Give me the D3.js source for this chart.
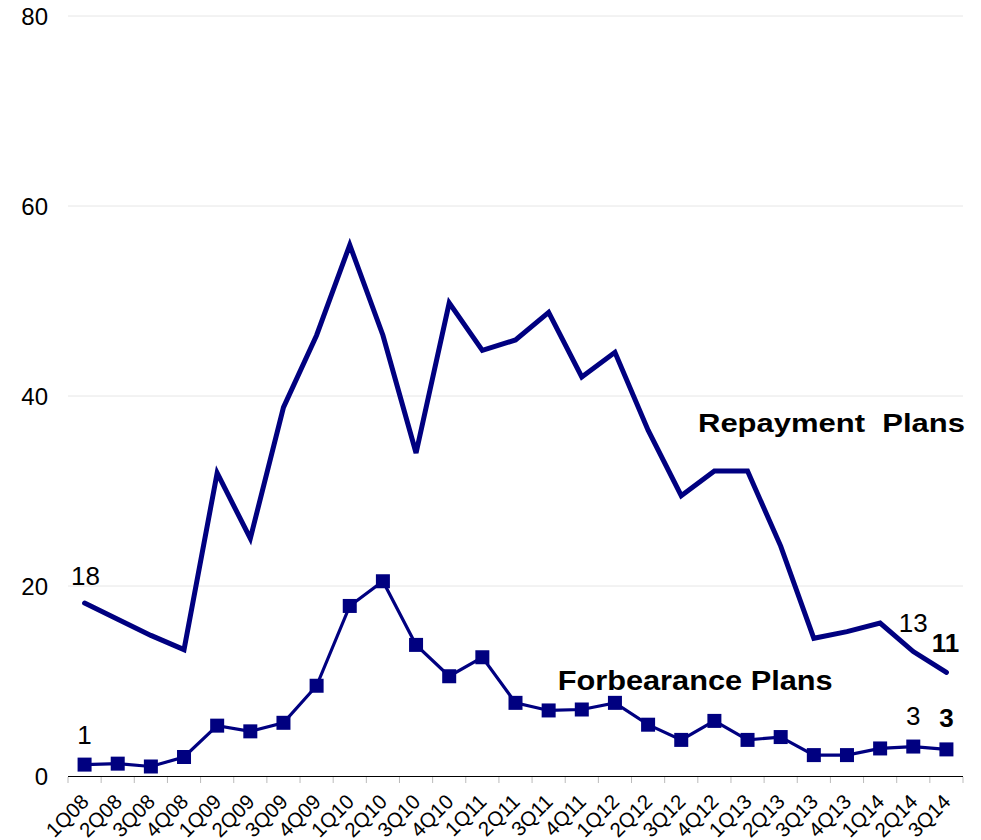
<!DOCTYPE html>
<html>
<head>
<meta charset="utf-8">
<script src="https://cdn.jsdelivr.net/npm/d3@7"></script>
<style>
  body { margin: 0; background: #fff; }
  svg { display: block; font-family: 'Liberation Sans', Arial, sans-serif; }
</style>
</head>
<body>
<div id="chart"></div>
<script>
const quarters = ['1Q08', '2Q08', '3Q08', '4Q08', '1Q09', '2Q09', '3Q09', '4Q09', '1Q10', '2Q10', '3Q10', '4Q10',
  '1Q11', '2Q11', '3Q11', '4Q11', '1Q12', '2Q12', '3Q12', '4Q12', '1Q13', '2Q13', '3Q13', '4Q13', '1Q14', '2Q14', '3Q14'];
const repayment = [18.2, 16.5, 14.8, 13.3, 31.9, 25.0, 38.8, 46.4, 55.9, 46.4, 34.0, 49.8,
  44.8, 45.9, 48.8, 42.0, 44.6, 36.4, 29.5, 32.1, 32.1, 24.2, 14.5, 15.2, 16.1, 13.1, 10.9];
const forbearance = [1.2, 1.3, 1.0, 2.0, 5.3, 4.7, 5.6, 9.5, 17.9, 20.5, 13.8, 10.5,
  12.5, 7.7, 6.9, 7.0, 7.7, 5.4, 3.8, 5.8, 3.8, 4.1, 2.2, 2.2, 2.9, 3.1, 2.8];
const yTicks = [0, 20, 40, 60, 80];

const width = 981;
const height = 840;
const margin = { top: 16, right: 18, bottom: 64, left: 68 };
const navy = '#000080';

const svg = d3.select('#chart').append('svg').attr('width', width).attr('height', height);

const x = d3.scaleBand().domain(quarters).range([margin.left, width - margin.right]);
const y = d3.scaleLinear().domain([0, 80]).range([height - margin.bottom, margin.top]);
const cx = (q) => x(q) + x.bandwidth() / 2;

// gridlines
svg.append('g')
  .selectAll('line')
  .data(yTicks.filter((d) => d > 0))
  .join('line')
  .attr('x1', x.range()[0])
  .attr('x2', x.range()[1])
  .attr('y1', (d) => y(d))
  .attr('y2', (d) => y(d))
  .attr('stroke', '#e6e6e6')
  .attr('stroke-width', 1);

// y labels
svg.append('g')
  .selectAll('text')
  .data(yTicks)
  .join('text')
  .attr('x', 48)
  .attr('y', (d) => y(d))
  .attr('dy', '0.36em')
  .attr('text-anchor', 'end')
  .attr('font-size', 24)
  .attr('fill', '#000')
  .text((d) => d);

// x axis
const axisY = y(0);
svg.append('line')
  .attr('x1', x.range()[0])
  .attr('x2', x.range()[1])
  .attr('y1', axisY + 0.5)
  .attr('y2', axisY + 0.5)
  .attr('stroke', '#000')
  .attr('stroke-width', 1.2);

svg.append('g')
  .selectAll('line')
  .data(quarters.concat(['end']))
  .join('line')
  .attr('x1', (d, i) => (i < quarters.length ? x(d) : x.range()[1]))
  .attr('x2', (d, i) => (i < quarters.length ? x(d) : x.range()[1]))
  .attr('y1', axisY + 1)
  .attr('y2', axisY + 7)
  .attr('stroke', '#bbb')
  .attr('stroke-width', 1);

svg.append('g')
  .selectAll('text')
  .data(quarters)
  .join('text')
  .attr('transform', (d) => `translate(${cx(d) + 5.5},${axisY + 27}) rotate(-45)`)
  .attr('text-anchor', 'end')
  .attr('font-size', 20.5)
  .attr('fill', '#000')
  .text((d) => d);

// repayment line
const line = d3.line().x((d, i) => cx(quarters[i])).y((d) => y(d));

svg.append('path')
  .datum(repayment)
  .attr('fill', 'none')
  .attr('stroke', navy)
  .attr('stroke-width', 5)
  .attr('stroke-linejoin', 'miter')
  .attr('stroke-linecap', 'round')
  .attr('d', line);

// forbearance line + markers
svg.append('path')
  .datum(forbearance)
  .attr('fill', 'none')
  .attr('stroke', navy)
  .attr('stroke-width', 3.2)
  .attr('d', line);

svg.append('g')
  .selectAll('rect')
  .data(forbearance)
  .join('rect')
  .attr('x', (d, i) => cx(quarters[i]) - 7)
  .attr('y', (d) => y(d) - 7)
  .attr('width', 14)
  .attr('height', 14)
  .attr('fill', navy);

// value labels
const fmt = d3.format('.0f');
const valueLabels = [
  { series: repayment, i: 0, bold: false, dx: 1, dy: -18 },
  { series: repayment, i: 25, bold: false, dx: 0, dy: -20 },
  { series: repayment, i: 26, bold: true, dx: -1, dy: -20 },
  { series: forbearance, i: 0, bold: false, dx: 0, dy: -21 },
  { series: forbearance, i: 25, bold: false, dx: 0, dy: -22 },
  { series: forbearance, i: 26, bold: true, dx: 0, dy: -22 }
];

svg.append('g')
  .selectAll('text')
  .data(valueLabels)
  .join('text')
  .attr('x', (d) => cx(quarters[d.i]) + d.dx)
  .attr('y', (d) => y(d.series[d.i]) + d.dy)
  .attr('text-anchor', 'middle')
  .attr('font-size', 26)
  .attr('font-weight', (d) => (d.bold ? 'bold' : 'normal'))
  .attr('fill', '#000')
  .text((d) => fmt(d.series[d.i]));

// series names
svg.append('text')
  .attr('x', x.range()[1] + 2)
  .attr('y', y(36.2))
  .attr('text-anchor', 'end')
  .attr('font-size', 26)
  .attr('font-weight', 'bold')
  .attr('textLength', 267)
  .attr('lengthAdjust', 'spacingAndGlyphs')
  .style('white-space', 'pre')
  .text('Repayment  Plans');

svg.append('text')
  .attr('x', cx('3Q11') + 9)
  .attr('y', y(9.05))
  .attr('font-size', 27)
  .attr('font-weight', 'bold')
  .attr('textLength', 275)
  .attr('lengthAdjust', 'spacingAndGlyphs')
  .text('Forbearance Plans');
</script>
</body>
</html>
